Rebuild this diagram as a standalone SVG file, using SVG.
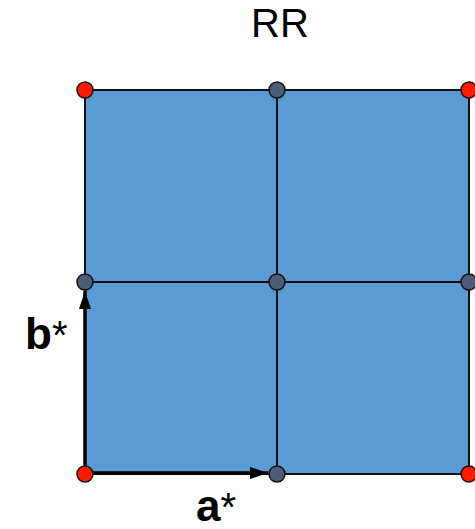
<svg xmlns="http://www.w3.org/2000/svg" width="475" height="529" viewBox="0 0 475 529">
<style>
.cell{fill:#5b9bd5;stroke:#111;stroke-width:2}
.red{fill:#ff1a00;stroke:#111;stroke-width:1.5}
.grey{fill:#4b5c76;stroke:#111;stroke-width:1.5}
.vec{stroke:#000;stroke-width:3.5;fill:none;marker-end:url(#ah)}
.lbl{font-family:"Liberation Sans",Arial,sans-serif;font-weight:bold;font-size:44px;fill:#000}
.title{font-family:"Liberation Sans",Arial,sans-serif;font-size:40px;fill:#000}
</style>
<defs>
<marker id="ah" viewBox="0 0 18 12" refX="18" refY="6" markerWidth="18" markerHeight="12" markerUnits="userSpaceOnUse" orient="auto">
<path d="M0,0 L18,6 L0,12 Z" fill="#000"/>
</marker>
</defs>
<text class="title" x="280" y="37" text-anchor="middle">RR</text>
<g id="cells">
<rect class="cell" x="85" y="90" width="192" height="192"/>
<rect class="cell" x="277" y="90" width="192" height="192"/>
<rect class="cell" x="85" y="282" width="192" height="192"/>
<rect class="cell" x="277" y="282" width="192" height="192"/>
</g>
<g id="connectors">
<line class="vec" x1="85" y1="474" x2="85" y2="291"/>
<line class="vec" x1="85" y1="473" x2="268" y2="473"/>
</g>
<g id="nodes">
<circle id="n00" class="red" cx="85" cy="90" r="8"/>
<circle id="n10" class="grey" cx="277" cy="90" r="8"/>
<circle id="n20" class="red" cx="469" cy="90" r="8"/>
<circle id="n01" class="grey" cx="85" cy="282" r="8"/>
<circle id="n11" class="grey" cx="277" cy="282" r="8"/>
<circle id="n21" class="grey" cx="469" cy="282" r="8"/>
<circle id="n02" class="red" cx="85" cy="474" r="8"/>
<circle id="n12" class="grey" cx="277" cy="474" r="8"/>
<circle id="n22" class="red" cx="469" cy="474" r="8"/>
</g>
<g id="labels">
<text class="lbl" x="25" y="349">b<tspan font-weight="normal" font-size="40">*</tspan></text>
<text class="lbl" x="196" y="521">a<tspan font-weight="normal" font-size="40">*</tspan></text>
</g>
</svg>
